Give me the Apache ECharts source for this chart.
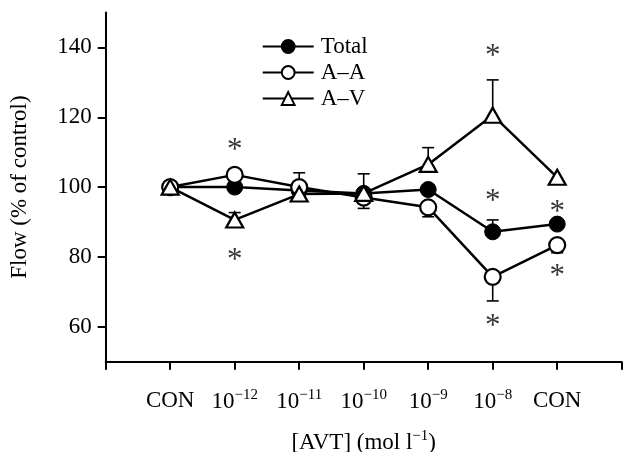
<!DOCTYPE html>
<html>
<head>
<meta charset="utf-8">
<script src="https://cdn.jsdelivr.net/npm/echarts@6/dist/echarts.min.js"></script>
<style>
  html, body { margin: 0; padding: 0; background: #fff; }
  #chart { width: 623px; height: 452px; }
</style>
</head>
<body>
<div id="chart"></div>
<script>
// x positions 1..7, tick labels ('^' marks the exponent)
const categories = ['CON', '10^−12', '10^−11', '10^−10', '10^−9', '10^−8', 'CON']
const yTicks = [60, 80, 100, 120, 140]

// flow, % of control
const totalFlow = [100, 100, 99, 98.2, 99.3, 87.2, 89.4]
const aaFlow = [100, 103.5, 100, 97, 94.2, 74.3, 83.4]
const avFlow = [100, 90.6, 98, 98.2, 106.5, 120.6, 102.8]

// end of the (one sided) error bar, null = none drawn
const totalErr = [null, null, null, 103.8, null, 90.6, null]
const aaErr = [null, null, 104.1, 93.9, 91.5, 67.4, 81.2]
const avErr = [null, 92.7, null, null, 111.3, 130.7, null]

// significance marks [x, y]
const stars = [[2, 112.1], [2, 80.6], [6, 139.1], [6, 97.5], [6, 61.7], [7, 94.4], [7, 76.1]]

const FONT = "'Liberation Serif', 'Times New Roman', serif"

const rich = {
  b: { fontFamily: FONT, fontSize: 23, color: '#000', lineHeight: 26 },
  s: { fontFamily: FONT, fontSize: 15, color: '#000', verticalAlign: 'bottom', padding: [0, 0, 13, 0] }
}

function supText (txt) {
  const parts = txt.split('^')
  if (parts.length === 1) return '{b|' + txt + '}'
  return '{b|' + parts[0] + '}{s|' + parts[1] + '}'
}

function points (arr) {
  return arr.map((v, i) => [i + 1, v])
}

function errPoints (vals, errs) {
  const out = []
  errs.forEach((e, i) => {
    if (e !== null) out.push([i + 1, vals[i], e])
  })
  return out
}

function renderErr (params, api) {
  const p0 = api.coord([api.value(0), api.value(1)])
  const p1 = api.coord([api.value(0), api.value(2)])
  const st = { stroke: '#000', lineWidth: 1.6 }
  return {
    type: 'group',
    children: [
      { type: 'line', shape: { x1: p0[0], y1: p0[1], x2: p1[0], y2: p1[1] }, style: st },
      { type: 'line', shape: { x1: p1[0] - 6, y1: p1[1], x2: p1[0] + 6, y2: p1[1] }, style: st }
    ]
  }
}

function errSeries (vals, errs) {
  return {
    type: 'custom',
    renderItem: renderErr,
    data: errPoints(vals, errs),
    encode: { x: 0, y: [1, 2] },
    silent: true,
    z: 1
  }
}

const lineStyle = { color: '#000', width: 2.5 }

const chart = echarts.init(document.getElementById('chart'), null, { renderer: 'canvas' })
chart.setOption({
  backgroundColor: '#ffffff',
  animation: false,
  textStyle: { fontFamily: FONT, color: '#000' },
  grid: {
    left: 105.7,
    right: 1.3,
    top: 12.5,
    bottom: 90.3,
    containLabel: false,
    outerBoundsMode: 'none'
  },
  legend: {
    data: ['Total', 'A–A', 'A–V'],
    orient: 'vertical',
    left: 256.7,
    top: 30,
    itemWidth: 51,
    itemHeight: 16,
    itemGap: 3,
    textStyle: { fontFamily: FONT, fontSize: 23, color: '#000', padding: [0, 0, 0, 2] }
  },
  xAxis: {
    type: 'value',
    min: 0,
    max: 8,
    interval: 1,
    name: '{b|[AVT] (mol l}{s|−1}{b|)}',
    nameLocation: 'middle',
    nameGap: 67,
    nameTextStyle: { rich: rich },
    splitLine: { show: false },
    axisLine: { lineStyle: { color: '#000', width: 2 } },
    axisTick: { length: 8, lineStyle: { color: '#000', width: 2 } },
    axisLabel: {
      margin: 26,
      rich: rich,
      formatter: function (v) {
        const c = categories[v - 1]
        return c ? supText(c) : ''
      }
    }
  },
  yAxis: {
    type: 'value',
    min: 50,
    max: 150,
    name: 'Flow (% of control)',
    nameLocation: 'middle',
    nameGap: 74,
    nameTextStyle: { fontFamily: FONT, fontSize: 23, color: '#000' },
    splitLine: { show: false },
    axisLine: { show: true, lineStyle: { color: '#000', width: 2 } },
    axisTick: { show: true, length: 8, lineStyle: { color: '#000', width: 2 }, customValues: yTicks },
    axisLabel: { fontFamily: FONT, fontSize: 23, color: '#000', margin: 14, customValues: yTicks }
  },
  series: [
    errSeries(totalFlow, totalErr),
    errSeries(aaFlow, aaErr),
    errSeries(avFlow, avErr),
    {
      name: 'Total',
      type: 'line',
      data: points(totalFlow),
      symbol: 'circle',
      symbolSize: 16,
      lineStyle: lineStyle,
      itemStyle: { color: '#000', borderColor: '#000', borderWidth: 1 },
      z: 3
    },
    {
      name: 'A–A',
      type: 'line',
      data: points(aaFlow),
      symbol: 'circle',
      symbolSize: 16,
      lineStyle: lineStyle,
      itemStyle: { color: '#fff', borderColor: '#000', borderWidth: 2.2 },
      z: 3
    },
    {
      name: 'A–V',
      type: 'line',
      data: points(avFlow),
      symbol: 'triangle',
      symbolSize: [17, 15],
      lineStyle: lineStyle,
      itemStyle: { color: '#fff', borderColor: '#000', borderWidth: 2.2 },
      z: 4
    },
    {
      type: 'scatter',
      data: stars,
      symbol: 'circle',
      symbolSize: 1,
      itemStyle: { color: 'rgba(0,0,0,0)' },
      silent: true,
      label: {
        show: true,
        position: 'inside',
        formatter: '*',
        offset: [0, 6],
        fontFamily: FONT,
        fontSize: 31,
        color: '#000'
      },
      z: 5
    }
  ]
})
</script>
</body>
</html>
